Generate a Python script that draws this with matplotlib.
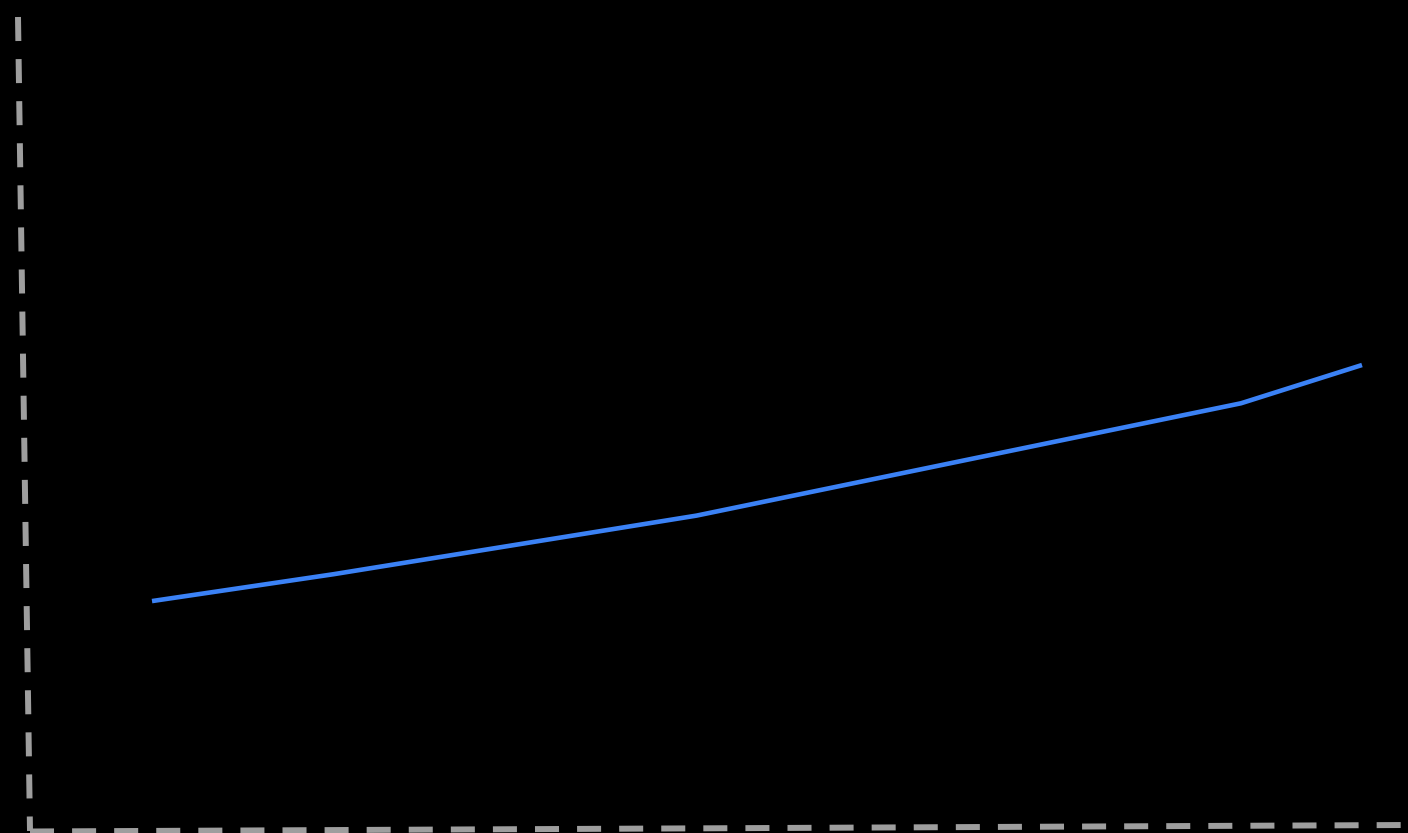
import matplotlib
matplotlib.use("Agg")
import matplotlib.pyplot as plt
from matplotlib.lines import Line2D

# Data
x_vals = [0, 3, 9, 18, 20]
y_vals = [28.0, 31.3, 38.5, 52.3, 57.0]

W, H = 1408, 833
plt.rcParams['lines.scale_dashes'] = False
fig = plt.figure(figsize=(W / 100, H / 100), dpi=100, facecolor='black')
ax = fig.add_axes([0, 0, 1, 1])
ax.set_facecolor('black')
for s in ax.spines.values():
    s.set_visible(False)
ax.set_xticks([])
ax.set_yticks([])

ux = 60.5
ax.set_xlim((0 - 152) / ux, (W - 152) / ux)
uy = 8.14
ax.set_ylim(-(H - 829) / uy, 829 / uy)

ax.plot(x_vals, y_vals, color='#3b82f6', lw=3.3, solid_capstyle='butt')

def fp(px, py):
    return px / W, 1 - py / H

gray = '#9e9e9e'
lw = 4.3
dash = (0, (17.3, 13.0))
(x0, y0), (x1, y1) = fp(18, 17), fp(30, 831)
fig.add_artist(Line2D([x0, x1], [y0, y1], color=gray, lw=lw, linestyle=dash,
                      solid_capstyle='butt', dash_capstyle='butt', transform=fig.transFigure))
(x0, y0), (x1, y1) = fp(30, 831.5), fp(1408, 825)
fig.add_artist(Line2D([x0, x1], [y0, y1], color=gray, lw=lw, linestyle=dash,
                      solid_capstyle='butt', dash_capstyle='butt', transform=fig.transFigure))

fig.savefig('out.png', dpi=100, facecolor='black')
